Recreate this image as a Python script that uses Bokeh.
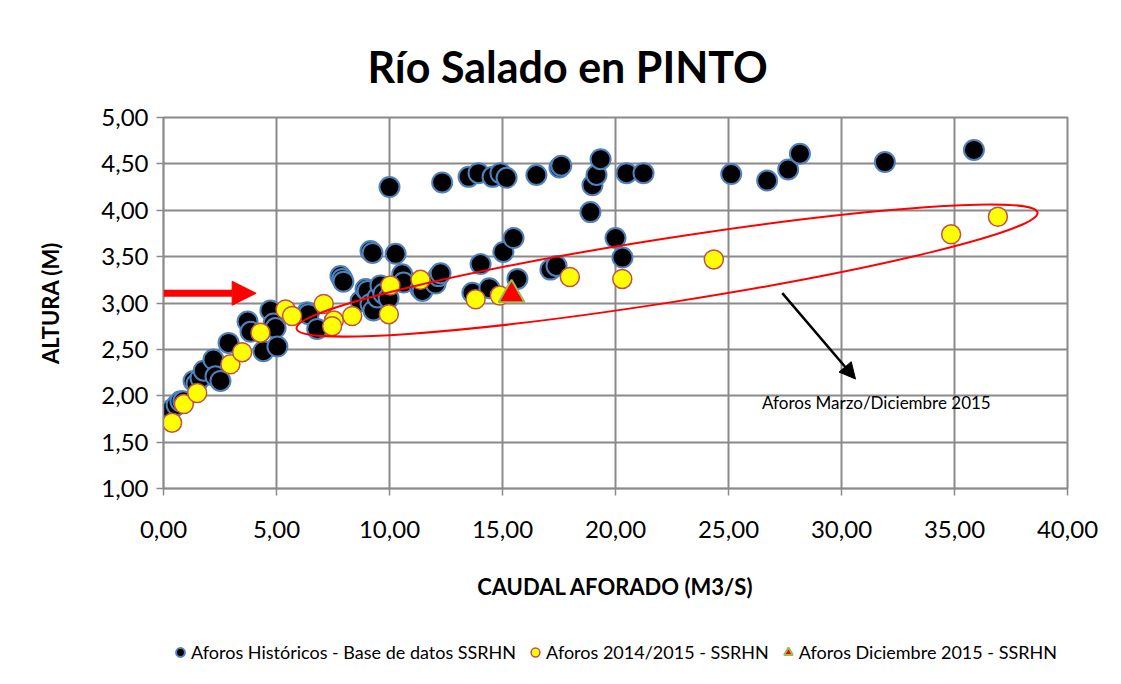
from bokeh.plotting import figure
from bokeh.layouts import column
from bokeh.models import (Range1d, Legend, LegendItem, Arrow, NormalHead, Label,
                          SingleIntervalTicker, CustomJSTickFormatter)
from bokeh.embed import file_html
from bokeh.resources import INLINE
import math

# Aforos Históricos - Base de datos SSRHN
hist_q = [0.35, 0.58, 0.75, 0.88, 1.33, 1.46, 1.64, 1.78, 2.21, 2.30, 2.52, 2.88,
          3.72, 3.85, 4.42, 4.73, 4.87, 4.96, 5.04, 6.36, 6.42, 6.80, 7.83, 7.91,
          7.96, 8.72, 8.94, 9.03, 9.16, 9.16, 9.25, 9.29, 9.47, 9.60, 9.73, 9.96,
          10.00, 10.27, 10.56, 10.62, 11.37, 11.46, 12.04, 12.17, 12.26, 12.33,
          13.50, 13.67, 13.94, 14.03, 14.42, 14.56, 14.91, 15.04, 15.18, 15.49,
          15.66, 16.50, 17.12, 17.39, 17.52, 17.60, 18.89, 18.98, 19.16, 19.34,
          20.00, 20.31, 20.49, 21.24, 25.12, 26.71, 27.64, 28.16, 31.92, 35.86]
hist_h = [1.85, 1.90, 1.94, 1.94, 2.16, 2.13, 2.19, 2.27, 2.39, 2.21, 2.16, 2.57,
          2.80, 2.69, 2.48, 2.92, 2.78, 2.73, 2.53, 2.90, 2.88, 2.72, 3.29, 3.26,
          3.23, 3.02, 3.15, 3.13, 3.56, 2.99, 3.54, 2.92, 3.06, 3.19, 3.10, 3.05,
          4.25, 3.53, 3.31, 3.22, 3.15, 3.13, 3.21, 3.29, 3.32, 4.30,
          4.36, 3.11, 4.40, 3.42, 3.16, 4.36, 4.40, 3.55, 4.35, 3.70,
          3.26, 4.38, 3.36, 3.40, 4.46, 4.48, 3.98, 4.27, 4.38, 4.55,
          3.70, 3.49, 4.40, 4.40, 4.39, 4.32, 4.44, 4.61, 4.52, 4.65]

# Aforos 2014/2015 - SSRHN
a1415_q = [0.38, 0.90, 1.49, 2.96, 3.48, 4.29, 5.40, 5.69, 7.09, 7.54, 7.46, 8.35,
           10.04, 9.97, 11.37, 13.81, 14.88, 17.98, 20.30, 24.35, 34.85, 36.92]
a1415_h = [1.71, 1.91, 2.03, 2.34, 2.47, 2.68, 2.93, 2.86, 2.99, 2.81, 2.75, 2.86,
           3.19, 2.88, 3.25, 3.04, 3.08, 3.28, 3.26, 3.47, 3.74, 3.93]

# Aforos Diciembre 2015 - SSRHN
dic_q = [15.40]
dic_h = [3.09]

series_names = ["Aforos Históricos - Base de datos SSRHN",
                "Aforos 2014/2015 - SSRHN",
                "Aforos Diciembre 2015 - SSRHN"]

# annotations (data units)
ell_center = (22.28, 3.35)
red_arrow = (0.0, 3.105, 4.1, 3.105)
blk_arrow = (27.38, 3.107, 30.62, 2.18)
note_pos = (26.48, 1.925)
note_text = "Aforos Marzo/Diciembre 2015"

x_ticks_step = 5
y_ticks_step = 0.5

FONT = "Lato"
GRID = "#8a8a8a"

STY_HIST = dict(fill_color="black", line_color="#4F81BD", line_width=2)
STY_1415 = dict(fill_color="#FFFF00", line_color="#C0504D", line_width=1.5)
STY_DIC = dict(marker="triangle", fill_color="#FF0000", line_color="#9BBB59",
               line_width=2)

p = figure(frame_width=904, frame_height=371, output_backend="svg",
           toolbar_location=None,
           x_range=Range1d(0, 40), y_range=Range1d(1, 5),
           min_border_left=163, min_border_right=54, min_border_top=117,
           min_border_bottom=125)

p.title.text = "Río Salado en PINTO"
p.title.text_font = FONT
p.title.text_font_style = "bold"
p.title.text_font_size = "43px"
p.title.text_color = "black"
p.title.align = "left"
p.title.offset = 204
p.title.standoff = 52

fmt = CustomJSTickFormatter(code="return tick.toFixed(2).replace('.', ',');")
for ax, step in ((p.xaxis[0], x_ticks_step), (p.yaxis[0], y_ticks_step)):
    ax.ticker = SingleIntervalTicker(interval=step, num_minor_ticks=0)
    ax.formatter = fmt
    ax.axis_line_color = GRID
    ax.axis_line_width = 1.5
    ax.major_tick_line_color = GRID
    ax.major_tick_line_width = 1.5
    ax.major_tick_out = 7
    ax.major_tick_in = 0
    ax.minor_tick_line_color = None
    ax.major_label_text_font = FONT
    ax.major_label_text_font_size = "24px"
    ax.major_label_text_color = "black"
    ax.axis_label_text_font = FONT
    ax.axis_label_text_font_style = "bold"
    ax.axis_label_text_font_size = "22px"
    ax.axis_label_text_color = "black"

p.xaxis.axis_label = "CAUDAL AFORADO (M3/S)"
p.yaxis.axis_label = "ALTURA (M)"
p.xaxis.major_label_standoff = 25
p.yaxis.major_label_standoff = 8
p.xaxis.axis_label_standoff = 32
p.yaxis.axis_label_standoff = 34

p.xgrid.grid_line_color = GRID
p.ygrid.grid_line_color = GRID
p.xgrid.grid_line_width = 2
p.ygrid.grid_line_width = 2
p.outline_line_color = GRID
p.outline_line_width = 2
p.background_fill_color = "white"

p.scatter(hist_q, hist_h, size=20, **STY_HIST)
p.scatter(a1415_q, a1415_h, size=19, **STY_1415)
p.scatter(dic_q, dic_h, size=26, **STY_DIC)

p.ellipse(x=[ell_center[0]], y=[ell_center[1]], width=[750], height=[64],
          angle=[math.radians(8.9)], width_units="screen", height_units="screen",
          fill_color=None, line_color="#FF0000", line_width=2)

p.add_layout(Arrow(x_start=red_arrow[0], y_start=red_arrow[1], x_end=red_arrow[2],
                   y_end=red_arrow[3], line_color="#FF0000", line_width=7,
                   end=NormalHead(size=24, fill_color="#FF0000", line_color="#FF0000")))
p.add_layout(Arrow(x_start=blk_arrow[0], y_start=blk_arrow[1], x_end=blk_arrow[2],
                   y_end=blk_arrow[3], line_color="black", line_width=2.5,
                   end=NormalHead(size=16, fill_color="black", line_color="black")))
p.add_layout(Label(x=note_pos[0], y=note_pos[1], text=note_text, text_font=FONT,
                   text_font_size="17px", text_baseline="middle", text_color="black"))

# legend strip below the chart (its proxy glyphs sit outside its own ranges)
leg = figure(width=1121, height=71, output_backend="svg", toolbar_location=None,
             x_axis_type=None, y_axis_type=None, x_range=Range1d(-2, -1),
             y_range=Range1d(-2, -1), min_border=0, outline_line_color=None)
g1 = leg.scatter(x=hist_q[:1], y=hist_h[:1], size=9, **STY_HIST)
g2 = leg.scatter(x=a1415_q[:1], y=a1415_h[:1], size=9, **STY_1415)
g3 = leg.scatter(x=dic_q, y=dic_h, size=10, **STY_DIC)
legend = Legend(items=[LegendItem(label=series_names[0], renderers=[g1]),
                       LegendItem(label=series_names[1], renderers=[g2]),
                       LegendItem(label=series_names[2], renderers=[g3])],
                orientation="horizontal", location=(6, 21), border_line_color=None,
                background_fill_alpha=0, label_text_font=FONT,
                label_text_font_size="18px", label_text_color="black",
                glyph_width=22, glyph_height=22, label_standoff=0, spacing=8,
                margin=0, padding=4)
leg.add_layout(legend, "center")

open("out.html", "w").write(file_html(column(p, leg, spacing=0), INLINE))
